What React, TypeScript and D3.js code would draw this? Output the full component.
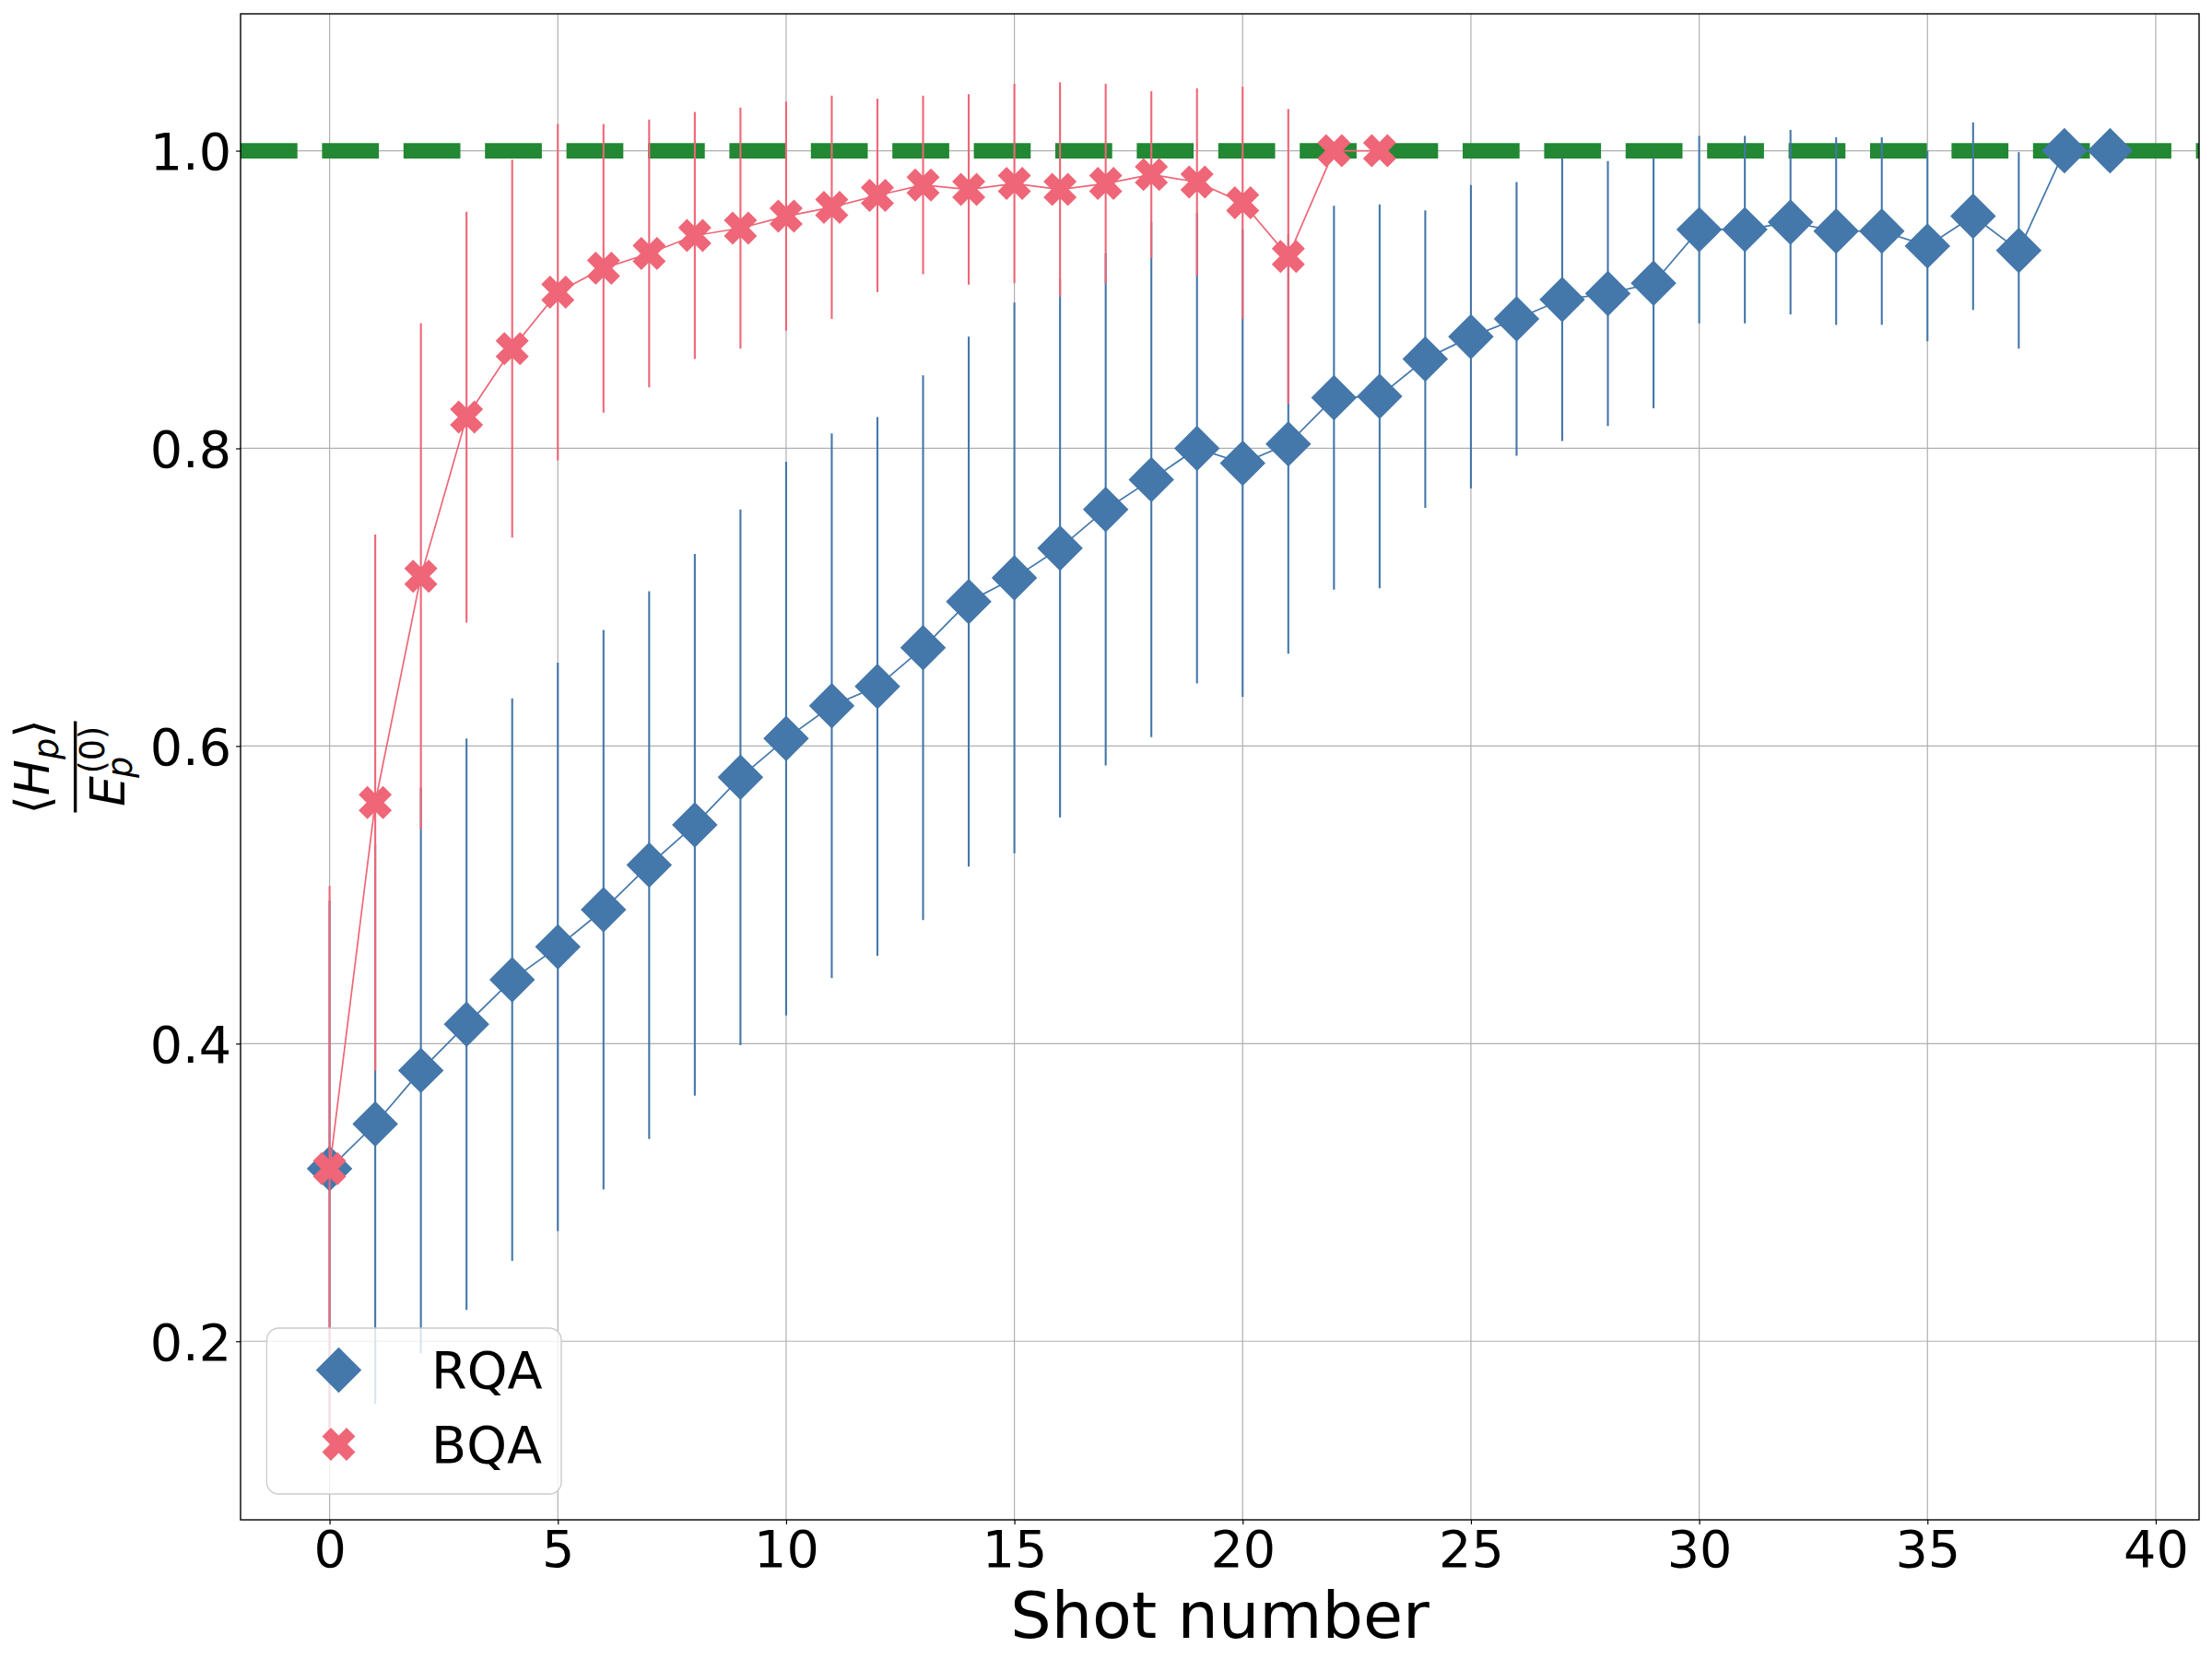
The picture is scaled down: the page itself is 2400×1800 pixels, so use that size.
import * as d3 from 'd3';
import { useEffect, useRef } from 'react';

// shot index for each series
const rqaShots = [0, 1, 2, 3, 4, 5, 6, 7, 8, 9, 10, 11, 12, 13, 14, 15, 16, 17, 18, 19, 20, 21, 22, 23, 24, 25, 26, 27, 28, 29, 30, 31, 32, 33, 34, 35, 36, 37, 38, 39];
const rqaMean = [0.316, 0.346, 0.382, 0.413, 0.443, 0.465, 0.49, 0.52, 0.547, 0.579, 0.605, 0.627, 0.64, 0.666, 0.697, 0.713, 0.733, 0.759, 0.779, 0.8, 0.79, 0.803, 0.834, 0.835, 0.86, 0.875, 0.887, 0.9, 0.904, 0.911, 0.947, 0.947, 0.952, 0.946, 0.946, 0.936, 0.956, 0.933, 1.0, 1.0];
const rqaErr = [0.18, 0.188, 0.19, 0.192, 0.189, 0.191, 0.188, 0.184, 0.182, 0.18, 0.186, 0.183, 0.181, 0.183, 0.178, 0.185, 0.181, 0.172, 0.173, 0.158, 0.157, 0.141, 0.129, 0.129, 0.1, 0.102, 0.092, 0.095, 0.089, 0.084, 0.063, 0.063, 0.062, 0.063, 0.063, 0.064, 0.063, 0.066, 0, 0];

const bqaShots = [0, 1, 2, 3, 4, 5, 6, 7, 8, 9, 10, 11, 12, 13, 14, 15, 16, 17, 18, 19, 20, 21, 22, 23];
const bqaMean = [0.316, 0.562, 0.714, 0.821, 0.867, 0.905, 0.921, 0.931, 0.943, 0.948, 0.956, 0.962, 0.97, 0.977, 0.974, 0.978, 0.974, 0.978, 0.984, 0.979, 0.965, 0.929, 1.0, 1.0];
const bqaErr = [0.19, 0.18, 0.17, 0.138, 0.127, 0.113, 0.097, 0.09, 0.083, 0.081, 0.077, 0.075, 0.065, 0.06, 0.064, 0.067, 0.072, 0.067, 0.056, 0.063, 0.078, 0.099, 0, 0];

const xTicks = [0, 5, 10, 15, 20, 25, 30, 35, 40];
const yTicks = [0.2, 0.4, 0.6, 0.8, 1.0];
const targetLevel = 1.0;
const seriesNames = ['RQA', 'BQA'];

const blue = '#4477AA';
const red = '#EE6677';
const green = '#228833';
const font = '"DejaVu Sans", sans-serif';

// matplotlib 'D' marker: square rotated 45deg
const diamondPath = (d: number) => {
    const h = d / 2;
    return `M0,${-h}L${h},0L0,${h}L${-h},0Z`;
};

// matplotlib filled 'X' marker
const xPath = (s: number) => {
    const pts = [
        [-1, -2], [0, -1], [1, -2], [2, -1], [1, 0], [2, 1],
        [1, 2], [0, 1], [-1, 2], [-2, 1], [-1, 0], [-2, -1],
    ];
    return 'M' + pts.map(([a, b]) => `${(a * s) / 4},${(b * s) / 4}`).join('L') + 'Z';
};

export default function App() {
    const svgRef = useRef<SVGSVGElement>(null);

    useEffect(() => {
        if (!svgRef.current) return;
        const W = 2400,
            H = 1800;
        const margin = { top: 15, right: 14, bottom: 151, left: 261 },
            width = W - margin.left - margin.right,
            height = H - margin.top - margin.bottom;

        const svg = d3.select(svgRef.current);
        svg.selectAll('*').remove();

        const allShots = rqaShots.concat(bqaShots);
        const xMin = d3.min(allShots) as number,
            xMax = d3.max(allShots) as number;
        const xPad = (xMax - xMin) * 0.05;
        const x = d3.scaleLinear().domain([xMin - xPad, xMax + xPad]).range([0, width]);

        const lows = rqaMean.map((m, i) => m - rqaErr[i]).concat(bqaMean.map((m, i) => m - bqaErr[i]));
        const highs = rqaMean.map((m, i) => m + rqaErr[i]).concat(bqaMean.map((m, i) => m + bqaErr[i]));
        const yLo = d3.min(lows) as number,
            yHi = d3.max(highs) as number;
        const yPad = (yHi - yLo) * 0.05;
        const y = d3.scaleLinear().domain([yLo - yPad, yHi + yPad]).range([height, 0]);

        svg.append('defs')
            .append('clipPath')
            .attr('id', 'plot-clip')
            .append('rect')
            .attr('width', width)
            .attr('height', height);

        const g = svg.append('g').attr('transform', `translate(${margin.left},${margin.top})`);

        // grid
        const grid = g.append('g').attr('stroke', '#b0b0b0').attr('stroke-width', 1.2);
        grid.selectAll('line.gx')
            .data(xTicks)
            .join('line')
            .attr('x1', (d) => x(d))
            .attr('x2', (d) => x(d))
            .attr('y1', 0)
            .attr('y2', height);
        grid.selectAll('line.gy')
            .data(yTicks)
            .join('line')
            .attr('x1', 0)
            .attr('x2', width)
            .attr('y1', (d) => y(d))
            .attr('y2', (d) => y(d));

        const plot = g.append('g').attr('clip-path', 'url(#plot-clip)');

        // reference level
        plot.append('line')
            .attr('x1', 0)
            .attr('x2', width)
            .attr('y1', y(targetLevel))
            .attr('y2', y(targetLevel))
            .attr('stroke', green)
            .attr('stroke-width', 16.7)
            .attr('stroke-dasharray', '61.7 26.7');

        const drawSeries = (shots: number[], mean: number[], err: number[], color: string, marker: string) => {
            const pts = shots.map((s, i) => ({ s, m: mean[i], e: err[i] }));
            const s = plot.append('g');
            s.selectAll('line')
                .data(pts.filter((p) => p.e > 0))
                .join('line')
                .attr('x1', (p) => x(p.s))
                .attr('x2', (p) => x(p.s))
                .attr('y1', (p) => y(p.m - p.e))
                .attr('y2', (p) => y(p.m + p.e))
                .attr('stroke', color)
                .attr('stroke-width', 2.1);
            const line = d3
                .line<{ s: number; m: number }>()
                .x((p) => x(p.s))
                .y((p) => y(p.m));
            s.append('path')
                .attr('d', line(pts))
                .attr('fill', 'none')
                .attr('stroke', color)
                .attr('stroke-width', 1.7);
            s.selectAll('path.mk')
                .data(pts)
                .join('path')
                .attr('class', 'mk')
                .attr('transform', (p) => `translate(${x(p.s)},${y(p.m)})`)
                .attr('d', marker)
                .attr('fill', color)
                .attr('stroke', color)
                .attr('stroke-width', 1.4)
                .attr('stroke-linejoin', 'miter');
        };

        drawSeries(rqaShots, rqaMean, rqaErr, blue, diamondPath(47.5));
        drawSeries(bqaShots, bqaMean, bqaErr, red, xPath(34));

        // axes
        const xAxis = g
            .append('g')
            .attr('transform', `translate(0,${height})`)
            .call(d3.axisBottom(x).tickValues(xTicks).tickFormat(d3.format('d')).tickSize(4.9).tickPadding(7));
        const yAxis = g
            .append('g')
            .call(d3.axisLeft(y).tickValues(yTicks).tickFormat(d3.format('.1f')).tickSize(4.9).tickPadding(5));
        [xAxis, yAxis].forEach((a) => {
            a.select('.domain').remove();
            a.selectAll('line').attr('stroke', '#000').attr('stroke-width', 1.2);
            a.selectAll('text').attr('font-family', font).attr('font-size', 55.6).attr('fill', '#000');
        });
        yAxis.selectAll('text').attr('dy', '0.36em');

        g.append('rect')
            .attr('width', width)
            .attr('height', height)
            .attr('fill', 'none')
            .attr('stroke', '#000')
            .attr('stroke-width', 1.4);

        // x label
        svg.append('text')
            .attr('x', margin.left + width / 2)
            .attr('y', 1777)
            .attr('text-anchor', 'middle')
            .attr('font-family', font)
            .attr('font-size', 70)
            .text('Shot number');

        // y label: <H_p> / E_p^(0)
        const yl = svg
            .append('g')
            .attr('transform', `translate(81.7,${margin.top + height / 2}) rotate(-90)`)
            .attr('font-family', font);
        yl.append('rect').attr('x', -49.5).attr('y', -1.65).attr('width', 99).attr('height', 3.3).attr('fill', '#000');
        const num = yl.append('text').attr('x', 0).attr('y', -28.4).attr('text-anchor', 'middle').attr('font-size', 52);
        num.append('tspan').text('⟨');
        num.append('tspan').attr('font-style', 'italic').text('H');
        num.append('tspan').attr('font-style', 'italic').attr('font-size', 36.5).attr('dy', 9.7).text('p');
        num.append('tspan').attr('dy', -9.7).text('⟩');
        yl.append('text').attr('x', -43).attr('y', 53.3).attr('font-size', 52).attr('font-style', 'italic').text('E');
        yl.append('text').attr('x', -12).attr('y', 61.5).attr('font-size', 36.5).attr('font-style', 'italic').text('p');
        yl.append('text').attr('x', -7.5).attr('y', 31.5).attr('font-size', 36.5).text('(0)');

        // legend
        const lg = svg.append('g');
        lg.append('rect')
            .attr('x', 289.4)
            .attr('y', 1441)
            .attr('width', 319.6)
            .attr('height', 180)
            .attr('rx', 13)
            .attr('fill', '#fff')
            .attr('fill-opacity', 0.8)
            .attr('stroke', '#cccccc')
            .attr('stroke-width', 1.4);
        const legendRows = [
            { name: seriesNames[0], color: blue, marker: diamondPath(47.5), cy: 1486.5 },
            { name: seriesNames[1], color: red, marker: xPath(34), cy: 1567 },
        ];
        legendRows.forEach((r) => {
            lg.append('path')
                .attr('transform', `translate(367.5,${r.cy})`)
                .attr('d', r.marker)
                .attr('fill', r.color)
                .attr('stroke', r.color)
                .attr('stroke-width', 1.4);
            lg.append('text')
                .attr('x', 468)
                .attr('y', r.cy + 19.8)
                .attr('font-family', font)
                .attr('font-size', 55.6)
                .text(r.name);
        });
    }, []);

    return (
        <div style={{ position: 'absolute', left: 0, top: 0 }}>
            <svg ref={svgRef} width={2400} height={1800} style={{ display: 'block', background: '#fff' }} />
        </div>
    );
}
